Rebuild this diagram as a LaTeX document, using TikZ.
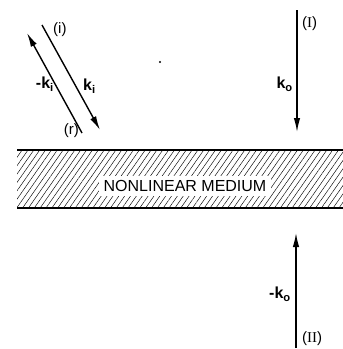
\documentclass[tikz,border=0pt]{standalone}
\usepackage{fontspec}
\setmainfont{Liberation Sans}
\newfontfamily\numfont{Liberation Serif}
\usetikzlibrary{positioning,arrows.meta,patterns.meta}

\begin{document}
\begin{tikzpicture}[
    x=1pt, y=-1pt,
    wave/.style={-{Latex[length=14pt,width=6.5pt]}, line width=1.4pt},
    lbl/.style={font=\fontsize{16}{18}\selectfont\bfseries, inner sep=1pt},
    tag/.style={font=\fontsize{15}{17}\selectfont, inner sep=1pt},
    slab/.style={pattern={Lines[angle=55, distance=4.8pt, line width=0.45pt]}},
    every node/.style={font=\fontsize{16}{18}\selectfont},
]
\useasboundingbox (0,0) rectangle (343,349);
% medium
\path[slab] (17,150) rectangle (343,208);
\draw[line width=1.5pt] (17,150) -- (343,150);
\draw[line width=1.1pt] (17,208) -- (343,208);
\node[fill=white, inner xsep=5pt, inner ysep=4pt] (medium) at (185,186) {NONLINEAR MEDIUM};
% incident and reflected pump
\coordinate (ki-start) at (42,25);
\coordinate (ki-end) at (100,130);
\coordinate (kr-start) at (82,133);
\coordinate (kr-end) at (27,33);
\draw[wave] (ki-start) -- (ki-end);
\draw[wave] (kr-start) -- (kr-end);
\node[tag, anchor=west] (lab-i) at (52,30) {(i)};
\node[tag, anchor=east] (lab-r) at (80,131) {(r)};
\node[lbl, anchor=west] (ki) at (82,86) {k\textsubscript{i}};
\node[lbl, anchor=east] (mki) at (55,84) {-k\textsubscript{i}};
% pump beams
\coordinate (top-start) at (297,10);
\coordinate (top-end) at (297,132);
\coordinate (bot-start) at (296,348);
\coordinate (bot-end) at (296,233);
\draw[wave] (top-start) -- (top-end);
\draw[wave] (bot-start) -- (bot-end);
\node[tag, anchor=west] (lab-I) at (301,24) {({\numfont I})};
\node[tag, anchor=west] (lab-II) at (301,339) {({\numfont II})};
\node[lbl, anchor=east] (ko) at (294,84) {k\textsubscript{o}};
\node[lbl, anchor=east] (mko) at (292,294) {-k\textsubscript{o}};
% speck
\fill (160,62) circle (1.2pt);
\end{tikzpicture}
\end{document}
